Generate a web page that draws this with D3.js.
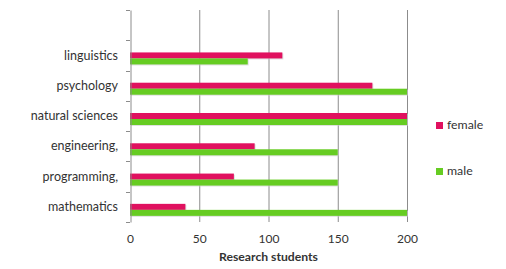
<!DOCTYPE html>
<html>
<head>
<meta charset="utf-8">
<script src="https://cdn.jsdelivr.net/npm/d3@7"></script>
<style>
  body { margin: 0; background: #fff; }
  text { font-family: Lato, "Open Sans", sans-serif; }
</style>
</head>
<body>
<div id="chart"></div>
<script>
// categories top to bottom, first slot is left empty like the original
var subjects = ["", "linguistics", "psychology", "natural sciences", "engineering,", "programming,", "mathematics"];
var female = [null, 110, 175, 200, 90, 75, 40];
var male = [null, 85, 200, 200, 150, 150, 200];
var xTicks = [0, 50, 100, 150, 200];
var seriesNames = ["female", "male"];
var seriesColors = ["#e0115f", "#66cc22"];

var width = 506, height = 269;
var margin = { top: 10, left: 130, right: 99, bottom: 47 };

var svg = d3.select("#chart").append("svg")
  .attr("width", width)
  .attr("height", height);

var x = d3.scaleLinear()
  .domain([0, 200])
  .range([margin.left, width - margin.right]);

var y = d3.scaleBand()
  .domain(subjects.map(function (d, i) { return i; }))
  .range([margin.top, height - margin.bottom]);

// gridlines
svg.append("g")
  .selectAll("line")
  .data(xTicks.slice(1))
  .enter().append("line")
  .attr("x1", function (d) { return x(d) + 0.5; })
  .attr("x2", function (d) { return x(d) + 0.5; })
  .attr("y1", margin.top)
  .attr("y2", height - margin.bottom)
  .attr("stroke", "#8c8c8c");

// bars
var barH = 6;
var rows = subjects.map(function (s, i) {
  return { i: i, f: female[i], m: male[i] };
}).filter(function (r) { return r.f != null; });

var g = svg.append("g");
rows.forEach(function (r) {
  var cy = y(r.i) + y.bandwidth() / 2 + 3;
  [r.f, r.m].forEach(function (v, k) {
    g.append("rect")
      .attr("x", x(0) + 1)
      .attr("y", cy - barH + k * barH + 1)
      .attr("width", x(v) - x(0))
      .attr("height", barH)
      .attr("fill", "#ccc")
      .attr("opacity", 0.6);
    g.append("rect")
      .attr("x", x(0))
      .attr("y", cy - barH + k * barH)
      .attr("width", x(v) - x(0))
      .attr("height", barH)
      .attr("fill", seriesColors[k]);
  });
});

// y axis line
var yAxis = d3.axisLeft(y)
  .tickValues([])
  .tickSizeOuter(0);
var ya = svg.append("g")
  .attr("transform", "translate(" + (margin.left + 0.5) + ",0)")
  .call(yAxis);
ya.select(".domain").attr("stroke", "#8c8c8c");

// tick marks on the band edges
svg.append("g")
  .selectAll("line")
  .data(d3.range(subjects.length + 1))
  .enter().append("line")
  .attr("x1", margin.left - 4)
  .attr("x2", margin.left)
  .attr("y1", function (i) {
    return i < subjects.length ? Math.round(y(i)) + 0.5 : height - margin.bottom + 0.5;
  })
  .attr("y2", function (i) {
    return i < subjects.length ? Math.round(y(i)) + 0.5 : height - margin.bottom + 0.5;
  })
  .attr("stroke", "#8c8c8c");

svg.append("g")
  .selectAll("text")
  .data(subjects)
  .enter().append("text")
  .attr("x", margin.left - 12)
  .attr("y", function (d, i) { return y(i) + y.bandwidth() / 2 + 1; })
  .attr("text-anchor", "end")
  .attr("dominant-baseline", "middle")
  .attr("font-size", 12.5)
  .attr("fill", "#333")
  .text(function (d) { return d; });

// x axis labels
var xAxis = d3.axisBottom(x).tickValues(xTicks).tickSize(0).tickPadding(12);
var xa = svg.append("g")
  .attr("transform", "translate(0," + (height - margin.bottom) + ")")
  .call(xAxis);
xa.select(".domain").remove();
xa.selectAll("text")
  .attr("font-size", 12)
  .attr("font-family", "Lato, sans-serif")
  .attr("fill", "#333");

svg.append("text")
  .attr("x", x(100))
  .attr("y", 261)
  .attr("text-anchor", "middle")
  .attr("font-size", 12.2)
  .attr("font-weight", "bold")
  .attr("fill", "#333")
  .text("Research students");

// legend
var legend = svg.append("g");
seriesNames.forEach(function (name, k) {
  var ly = 126 + k * 46;
  legend.append("rect")
    .attr("x", 436)
    .attr("y", ly - 4)
    .attr("width", 7)
    .attr("height", 7)
    .attr("fill", seriesColors[k]);
  legend.append("text")
    .attr("x", 447)
    .attr("y", ly)
    .attr("dominant-baseline", "middle")
    .attr("font-size", 12.3)
    .attr("fill", "#333")
    .text(name);
});
</script>
</body>
</html>
